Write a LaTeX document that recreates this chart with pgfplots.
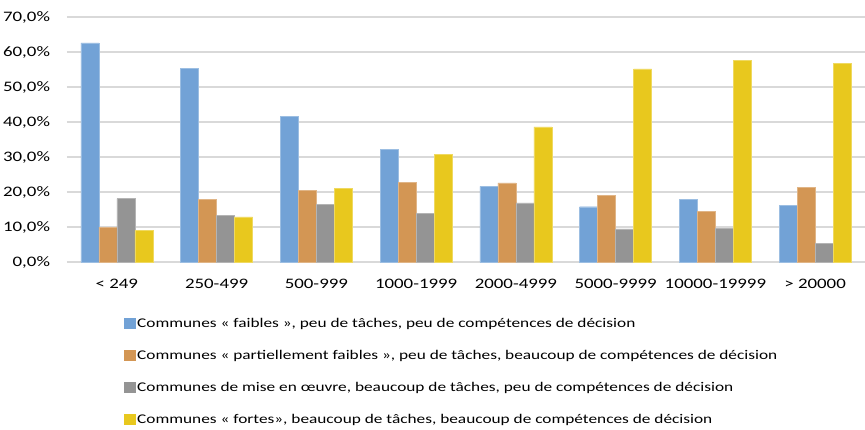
\documentclass[border=0pt]{standalone}
\usepackage{pgfplots}
\pgfplotsset{compat=1.18}
\usepackage{fontspec}
\setmainfont{Carlito}[FakeStretch=1.3]

\definecolor{cBlue}{HTML}{72A2D6}
\definecolor{cOrange}{HTML}{D39654}
\definecolor{cGray}{HTML}{949494}
\definecolor{cYellow}{HTML}{E8C81E}
\definecolor{cGrid}{HTML}{D9D9D9}

\begin{document}
\fontsize{14.5bp}{17bp}\selectfont
\begin{tikzpicture}
\begin{axis}[
    scale only axis,
    width=798bp, height=245bp,
    ybar=0pt, bar width=18bp,
    xmin=-0.5, xmax=7.5,
    ymin=0, ymax=70,
    xtick={0,...,7},
    xticklabels={< 249, 250-499, 500-999, 1000-1999, 2000-4999, 5000-9999, 10000-19999, > 20000},
    ytick={0,10,...,70},
    yticklabels={0{,}0\%,10{,}0\%,20{,}0\%,30{,}0\%,40{,}0\%,50{,}0\%,60{,}0\%,70{,}0\%},
    axis line style={draw=none},
    major tick length=0pt,
    ymajorgrids,
    grid style={cGrid, line width=1.5bp},
    yticklabel style={xshift=-12bp},
    xticklabel style={yshift=-12bp},
    legend cell align=left,
    legend image code/.code={\fill[#1,draw=none] (0bp,-5.5bp) rectangle (12bp,5.5bp);},
    legend style={draw=none, fill=none, at={(0,0)}, anchor=north west,
        xshift=54bp, yshift=-53bp, row sep=18.5bp,
        font=\fontsize{13.3bp}{15bp}\selectfont,
        nodes={inner sep=1bp}},
]
\addplot[fill=cBlue, draw=cBlue!70!white] coordinates {(0,62.6)(1,55.4)(2,41.6)(3,32.1)(4,21.6)(5,15.8)(6,18.0)(7,16.1)};
\addplot[fill=cOrange, draw=cOrange!70!white] coordinates {(0,10.0)(1,17.9)(2,20.5)(3,22.8)(4,22.6)(5,19.0)(6,14.4)(7,21.4)};
\addplot[fill=cGray, draw=cGray!70!white] coordinates {(0,18.1)(1,13.4)(2,16.4)(3,14.0)(4,16.9)(5,9.5)(6,9.6)(7,5.3)};
\addplot[fill=cYellow, draw=cYellow!70!white] coordinates {(0,9.0)(1,12.9)(2,21.1)(3,30.7)(4,38.6)(5,55.2)(6,57.7)(7,56.7)};
\legend{{Communes « faibles », peu de tâches, peu de compétences de décision},
        {Communes « partiellement faibles », peu de tâches, beaucoup de compétences de décision},
        {Communes de mise en œuvre, beaucoup de tâches, peu de compétences de décision},
        {Communes « fortes», beaucoup de tâches, beaucoup de compétences de décision}}
\end{axis}
\pgfresetboundingbox
\path (current axis.south west) ++(-67bp,-168bp) rectangle ++(865bp,430bp);
\end{tikzpicture}
\end{document}
